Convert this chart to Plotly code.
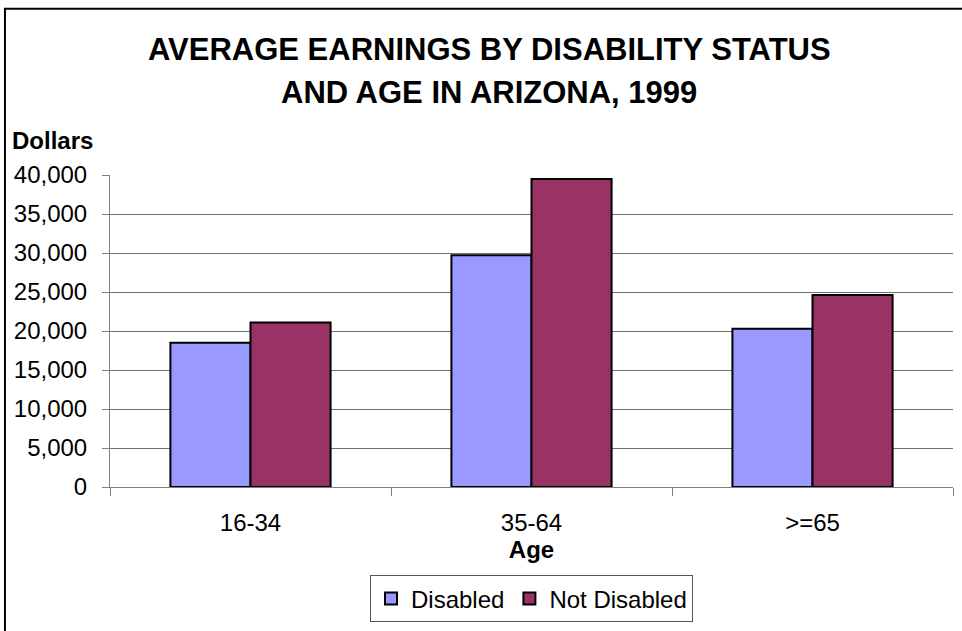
import plotly.graph_objects as go

# Average earnings (dollars) by age group and disability status, Arizona 1999
age_groups = ["16-34", "35-64", ">=65"]
disabled = [18500, 29700, 20300]
not_disabled = [21100, 39500, 24600]
y_ticks = [0, 5000, 10000, 15000, 20000, 25000, 30000, 35000, 40000]
title_lines = ["AVERAGE EARNINGS BY DISABILITY STATUS", "AND AGE IN ARIZONA, 1999"]

FONT = "Liberation Sans, Arial, sans-serif"

fig = go.Figure()
fig.add_trace(go.Bar(
    name="Disabled", x=age_groups, y=disabled,
    marker=dict(color="#9999FF", line=dict(color="#000000", width=2)),
))
fig.add_trace(go.Bar(
    name="Not Disabled", x=age_groups, y=not_disabled,
    marker=dict(color="#993366", line=dict(color="#000000", width=2)),
))

title_font = dict(family=FONT, size=31, weight="bold", color="#000000")
annotations = [
    dict(text=title_lines[0], xref="paper", yref="paper", x=0.4496, y=1.402,
         xanchor="center", yanchor="middle", showarrow=False, font=title_font),
    dict(text=title_lines[1], xref="paper", yref="paper", x=0.4496, y=1.266,
         xanchor="center", yanchor="middle", showarrow=False, font=title_font),
    dict(text="Dollars", xref="paper", yref="paper",
         x=-0.1186, y=1.111, xanchor="left", yanchor="middle",
         showarrow=False, font=dict(family=FONT, size=24, weight="bold")),
]

fig.update_layout(
    width=962, height=631,
    margin=dict(l=110, r=9, t=175, b=140),
    paper_bgcolor="white", plot_bgcolor="white",
    barmode="group", bargap=0.43, bargroupgap=0,
    font=dict(family=FONT, size=24, color="#000000"),
    showlegend=True,
    legend=dict(
        orientation="h", x=0.5, xanchor="center", y=-0.283, yanchor="top",
        bordercolor="#555555", borderwidth=1, bgcolor="white",
        font=dict(family=FONT, size=24), itemwidth=30,
        traceorder="normal",
    ),
    xaxis=dict(
        type="category", tickson="boundaries",
        ticks="outside", ticklen=8, tickcolor="#808080", tickwidth=1,
        showline=True, linecolor="#808080", linewidth=1,
        showgrid=False, ticklabelstandoff=14,
        tickfont=dict(family=FONT, size=24),
        title=dict(text="Age", font=dict(family=FONT, size=24, weight="bold"), standoff=6),
    ),
    yaxis=dict(
        range=[0, 40000], tickvals=y_ticks, tickformat=",d",
        ticks="outside", ticklen=7, tickcolor="#808080", tickwidth=1,
        showline=True, linecolor="#808080", linewidth=1,
        showgrid=True, gridcolor="#707070", gridwidth=1,
        zeroline=False, ticklabelstandoff=10,
        tickfont=dict(family=FONT, size=24),
    ),
    annotations=annotations,
    shapes=[dict(
        type="rect", xref="paper", yref="paper",
        x0=-0.1246, x1=1.2, y0=-0.6, y1=1.533,
        line=dict(color="#000000", width=2), layer="below",
    )],
)

fig.write_html("out.html")
